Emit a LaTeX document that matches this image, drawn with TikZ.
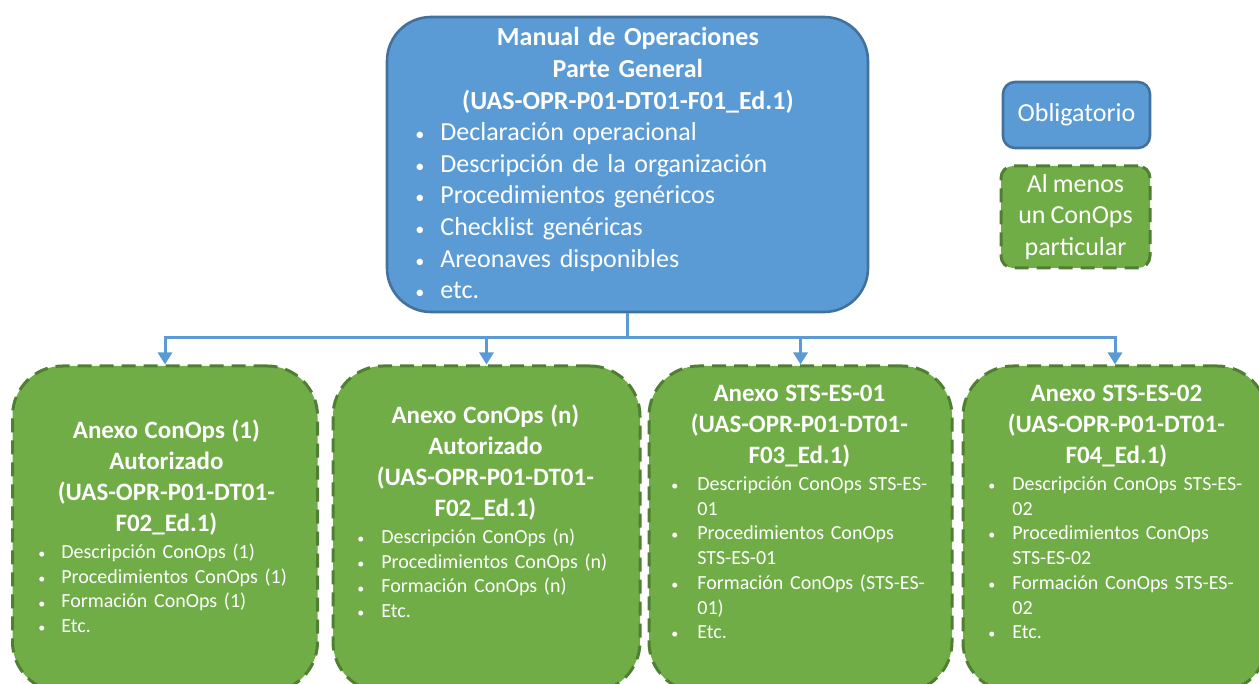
\documentclass[tikz,border=0pt]{standalone}
\usepackage{fontspec}
\setmainfont[WordSpace=0.85]{Carlito}
\usetikzlibrary{arrows.meta}
\definecolor{oblue}{HTML}{5B9BD5}
\definecolor{obluedark}{HTML}{41719C}
\definecolor{ogreen}{HTML}{70AD47}
\definecolor{ogreendark}{HTML}{507E32}
\newlength{\bulind}
\newcommand{\bul}[1]{\par\noindent\hangindent=\bulind\hangafter=1\makebox[\bulind][l]{\scalebox{0.7}{\textbullet}}#1}
\newcommand{\annextitle}[1]{{\fontsize{12.5}{15.6}\selectfont\bfseries\centering #1\par}\vspace{1pt}\fontsize{10}{12.4}\selectfont\raggedright}
\begin{document}
\begin{tikzpicture}[x=0.5pt, y=-0.5pt,
    bluebox/.style={draw=obluedark, fill=oblue, line width=1.3pt, rounded corners=22pt, text=white},
    greenbox/.style={draw=ogreendark, fill=ogreen, line width=1.5pt, dash pattern=on 7pt off 4pt, rounded corners=25pt, text=white},
    txt/.style={inner sep=0pt, text=white, text width=128pt},
    conn/.style={draw=oblue, line width=1.5pt},
    arr/.style={conn, -{Triangle[length=6pt, width=7pt]}}]
    \useasboundingbox (0,0) rectangle (1259,684);
    \node[bluebox, minimum width=240.5pt, minimum height=147.5pt] (top) at (627.5,164.5) {};
    \node[bluebox, rounded corners=6pt, minimum width=73.5pt, minimum height=33pt, font=\fontsize{13}{15.8}\selectfont] (oblig) at (1076.5,115) {Obligatorio};
    \node[greenbox, rounded corners=6pt, minimum width=74.5pt, minimum height=51pt, align=center, font=\fontsize{13}{15.8}\selectfont] (almenos) at (1075.5,217) {Al menos\\un ConOps\\particular};
    \node[greenbox, minimum width=152.5pt, minimum height=163pt] (a1) at (165,529) {};
    \node[greenbox, minimum width=153.5pt, minimum height=163pt] (a2) at (486.5,529) {};
    \node[greenbox, minimum width=151.5pt, minimum height=163pt] (a3) at (800.5,529) {};
    \node[greenbox, minimum width=152pt, minimum height=163pt] (a4) at (1115,529) {};
    \path (top.south) ++(0,24) coordinate (split);
    \draw[conn] (top.south) -- (split);
    \foreach \b in {a1,a2,a3,a4}
        \draw[arr] (split) -| (\b.north);
    \node[txt, anchor=base west, text width=212.5pt, font=\fontsize{13}{15.8}\selectfont] (toptxt) at (415,46) {%
        {\bfseries\centering Manual de Operaciones\\Parte General\\(UAS-OPR-P01-DT01-F01\_Ed.1)\par}
        \setlength{\bulind}{12.5pt}\raggedright
        \bul{Declaración operacional}
        \bul{Descripción de la organización}
        \bul{Procedimientos genéricos}
        \bul{Checklist genéricas}
        \bul{Areonaves disponibles}
        \bul{etc.}};
    \node[txt, anchor=base west] (a1txt) at (38,438) {%
        \annextitle{Anexo ConOps (1)\\Autorizado\\(UAS-OPR-P01-DT01-\\F02\_Ed.1)}
        \setlength{\bulind}{11.5pt}
        \bul{Descripción ConOps (1)}
        \bul{Procedimientos ConOps (1)}
        \bul{Formación ConOps (1)}
        \bul{Etc.}};
    \node[txt, anchor=base west] (a2txt) at (357,423) {%
        \annextitle{Anexo ConOps (n)\\Autorizado\\(UAS-OPR-P01-DT01-\\F02\_Ed.1)}
        \setlength{\bulind}{12pt}
        \bul{Descripción ConOps (n)}
        \bul{Procedimientos ConOps (n)}
        \bul{Formación ConOps (n)}
        \bul{Etc.}};
    \node[txt, anchor=base west] (a3txt) at (671,401) {%
        \annextitle{Anexo STS-ES-01\\(UAS-OPR-P01-DT01-\\F03\_Ed.1)}
        \setlength{\bulind}{13pt}
        \bul{\mbox{Descripción ConOps STS-ES-}\newline 01}
        \bul{\mbox{Procedimientos ConOps}\newline STS-ES-01}
        \bul{\mbox{Formación ConOps (STS-ES-}\newline 01)}
        \bul{Etc.}};
    \node[txt, anchor=base west] (a4txt) at (988,401) {%
        \annextitle{Anexo STS-ES-02\\(UAS-OPR-P01-DT01-\\F04\_Ed.1)}
        \setlength{\bulind}{12pt}
        \bul{\mbox{Descripción ConOps STS-ES-}\newline 02}
        \bul{\mbox{Procedimientos ConOps}\newline STS-ES-02}
        \bul{\mbox{Formación ConOps STS-ES-}\newline 02}
        \bul{Etc.}};
\end{tikzpicture}
\end{document}
